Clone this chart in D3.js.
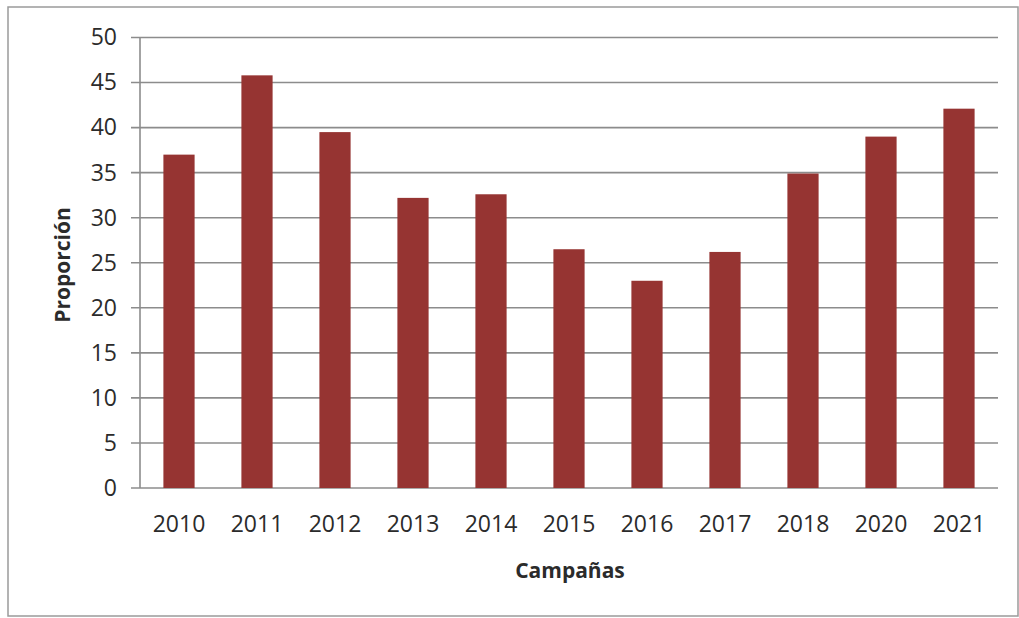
<!DOCTYPE html>
<html>
<head>
<meta charset="utf-8">
<script src="https://cdn.jsdelivr.net/npm/d3@7"></script>
<style>
  html, body { margin: 0; padding: 0; background: #fff; }
  svg { display: block; }
  text { font-family: "Open Sans", sans-serif; fill: #2b2b2b; }
</style>
</head>
<body>
<svg id="chart" width="1019" height="618"></svg>
<script>
const categories = ["2010","2011","2012","2013","2014","2015","2016","2017","2018","2020","2021"];
const values = [37.0, 45.8, 39.5, 32.2, 32.6, 26.5, 23.0, 26.2, 34.9, 39.0, 42.1];
const yTicks = [0, 5, 10, 15, 20, 25, 30, 35, 40, 45, 50];
const xTitle = "Campañas";
const yTitle = "Proporción";

const svg = d3.select("#chart");
const plot = { left: 140, right: 998, top: 37.5, bottom: 488 };

// outer border
svg.append("rect")
  .attr("x", 8).attr("y", 7).attr("width", 1010).attr("height", 609)
  .attr("fill", "#fff").attr("stroke", "#9a9a9a").attr("stroke-width", 1.5);

const x = d3.scaleBand().domain(categories)
  .range([plot.left, plot.right]).paddingInner(0.6).paddingOuter(0.3);
const y = d3.scaleLinear().domain([0, 50]).range([plot.bottom, plot.top]);

// gridlines
svg.append("g").selectAll("line").data(yTicks).join("line")
  .attr("x1", plot.left - 9).attr("x2", plot.right)
  .attr("y1", d => y(d)).attr("y2", d => y(d))
  .attr("stroke", "#8c8c8c").attr("stroke-width", 1.6);

// y axis line
svg.append("line")
  .attr("x1", plot.left).attr("x2", plot.left)
  .attr("y1", plot.top).attr("y2", plot.bottom)
  .attr("stroke", "#8c8c8c").attr("stroke-width", 1.6);

// bars
svg.append("g").selectAll("rect").data(categories).join("rect")
  .attr("x", d => x(d))
  .attr("width", x.bandwidth())
  .attr("y", (d, i) => y(values[i]))
  .attr("height", (d, i) => y(0) - y(values[i]))
  .attr("fill", "#963432");

// y axis labels
const yAxis = d3.axisLeft(y).tickValues(yTicks).tickSize(0).tickPadding(0).tickFormat(d3.format("d"));
const gy = svg.append("g").attr("transform", `translate(${plot.left - 23},0)`).call(yAxis);
gy.select(".domain").remove();
gy.selectAll("text").attr("font-size", 23).attr("font-family", "Open Sans, sans-serif").attr("fill", "#2b2b2b");

// x axis labels
const xAxis = d3.axisBottom(x).tickSize(0).tickPadding(0);
const gx = svg.append("g").attr("transform", `translate(0,${plot.bottom + 28})`).call(xAxis);
gx.select(".domain").remove();
gx.selectAll("text").attr("font-size", 23).attr("font-family", "Open Sans, sans-serif").attr("fill", "#2b2b2b");

// axis titles
svg.append("text")
  .attr("x", 570).attr("y", 578)
  .attr("text-anchor", "middle")
  .attr("font-size", 21).attr("font-weight", "bold")
  .text(xTitle);

svg.append("text")
  .attr("transform", "translate(70,265) rotate(-90)")
  .attr("text-anchor", "middle")
  .attr("font-size", 21).attr("font-weight", "bold")
  .text(yTitle);
</script>
</body>
</html>
